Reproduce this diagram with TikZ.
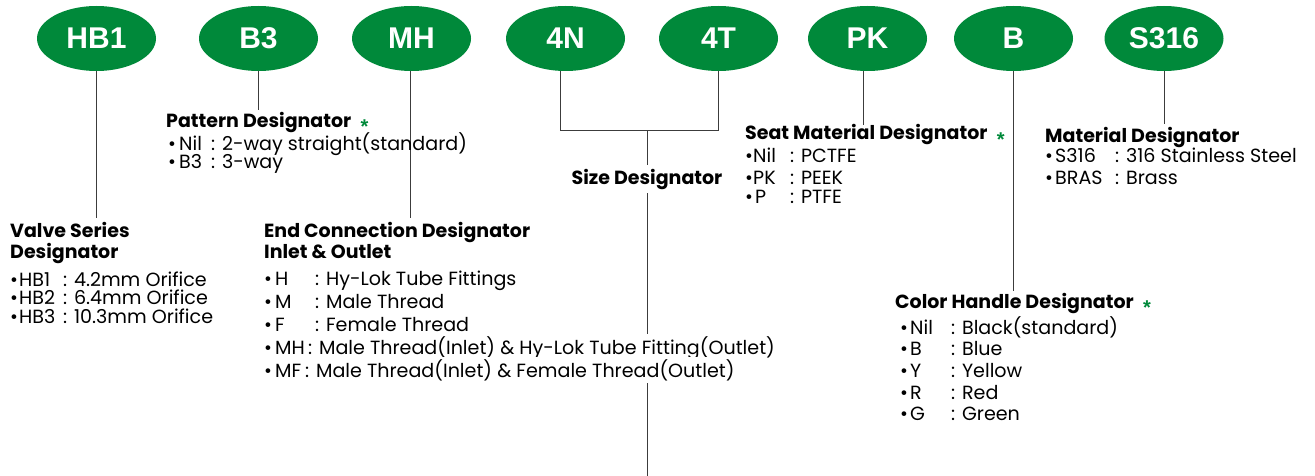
\documentclass[tikz,border=0pt]{standalone}
\usepackage{fontspec}
\setmainfont{Poppins}
\newfontfamily\lblfont{Liberation Sans}
\usetikzlibrary{shapes.geometric}
\definecolor{hygreen}{RGB}{0,137,58}
\definecolor{linegray}{RGB}{60,60,60}
\newcommand{\itemrow}[7]{\node[item] (#1) at (#2,#3) {\makebox[#4pt][l]{•}\makebox[#5pt][l]{#6}: #7};}
\begin{document}
\begin{tikzpicture}[x=1pt,y=-1pt,
  code/.style={ellipse, fill=hygreen, minimum width=119pt, minimum height=65pt, inner sep=0pt, text=white, font=\lblfont\bfseries\fontsize{30}{30}\selectfont},
  conn/.style={draw=linegray, line width=1pt},
  head/.style={anchor=base west, inner sep=0pt, font=\bfseries\fontsize{19}{21}\selectfont},
  item/.style={anchor=base west, inner sep=0pt, font=\fontsize{19.1}{21}\selectfont},
  star/.style={anchor=base west, inner sep=0pt, text=hygreen, font=\lblfont\bfseries\fontsize{20}{20}\selectfont}]
\useasboundingbox (0,0) rectangle (1315,476);
% code ellipses
\node[code] (hb1) at (96.5,38.5) {HB1};
\node[code] (b3) at (258.5,38.5) {B3};
\node[code] (mh) at (411.5,38.5) {MH};
\node[code] (n4) at (565.5,38.5) {4N};
\node[code] (t4) at (718.5,38.5) {4T};
\node[code] (pk) at (867.5,38.5) {PK};
\node[code] (b) at (1013.5,38.5) {B};
\node[code] (s316) at (1164,38.5) {S316};
% free ends
\coordinate (hb1e) at (96,218);
\coordinate (b3e) at (258.5,110);
\coordinate (mhe) at (410,218);
\coordinate (pke) at (863,125);
\coordinate (be) at (1013,291);
\coordinate (s316e) at (1164,124);
\coordinate (jl) at (560,131);
\coordinate (jr) at (718.5,131);
\coordinate (jm) at (647,131);
\coordinate (bottom) at (647,476);
% headings
\node[head] (vs1) at (10,237) {Valve Series};
\node[head] (vs2) at (10,258) {Designator};
\node[head] (pat) at (166,128) {Pattern Designator};
\node[star] (patstar) at ([xshift=9pt]pat.base east) {\raisebox{-6pt}{*}};
\node[head] (ec1) at (264,237) {End Connection Designator};
\node[head] (ec2) at (264,258) {Inlet \& Outlet};
\node[head, anchor=base, inner xsep=0pt, inner ysep=4pt] (size) at (647,184) {Size Designator};
\node[head] (seat) at (745,140) {Seat Material Designator};
\node[star] (seatstar) at ([xshift=9pt]seat.base east) {\raisebox{-6pt}{*}};
\node[head] (mat) at (1045,143) {Material Designator};
\node[head] (col) at (895,308) {Color Handle Designator};
\node[star] (colstar) at ([xshift=9pt]col.base east) {\raisebox{-6pt}{*}};
% connectors
\draw[conn] ([xshift=-0.5pt]hb1.south) -- (hb1e);
\draw[conn] (b3.south) -- (b3e);
\draw[conn] ([xshift=-1.5pt]mh.south) -- (mhe);
\draw[conn] ([xshift=-5.5pt]n4.south) -- (jl) -- (jr) -- (t4.south);
\draw[conn] (jm) -- (size.north);
\draw[conn] (size.south) -- (bottom);
\draw[conn] ([xshift=-4.5pt]pk.south) -- (pke);
\draw[conn] ([xshift=-0.5pt]b.south) -- (be);
\draw[conn] (s316.south) -- (s316e);
% items
\itemrow{hbr1}{10}{286}{9}{44}{HB1}{4.2mm Orifice}
\itemrow{hbr2}{10}{304.5}{9}{44}{HB2}{6.4mm Orifice}
\itemrow{hbr3}{10}{323}{9}{44}{HB3}{10.3mm Orifice}
\itemrow{patr1}{168}{150}{11}{32}{Nil}{2-way straight(standard)}
\itemrow{patr2}{168}{168}{11}{32}{B3}{3-way}
\itemrow{ecr1}{264}{285}{11}{40}{H}{Hy-Lok Tube Fittings}
\itemrow{ecr2}{264}{308}{11}{40}{M}{Male Thread}
\itemrow{ecr3}{264}{331}{11}{40}{F}{Female Thread}
\node[item, fill=white, inner ysep=2pt] (ecr4) at (264,354) {\makebox[11pt][l]{•}\makebox[33pt][l]{MH}: Male Thread(Inlet) \& Hy-Lok Tube Fitting(Outlet)};
\node[item, fill=white, inner ysep=2pt] (ecr5) at (264,377) {\makebox[11pt][l]{•}\makebox[30pt][l]{MF}: Male Thread(Inlet) \& Female Thread(Outlet)};
\itemrow{seatr1}{745}{163}{8}{37}{Nil}{PCTFE}
\itemrow{seatr2}{745}{184}{8}{37}{PK}{PEEK}
\itemrow{seatr3}{745}{204}{10}{35}{P}{PTFE}
\itemrow{matr1}{1045}{163}{10}{60}{S316}{316 Stainless Steel}
\itemrow{matr2}{1045}{184}{10}{60}{BRAS}{Brass}
\itemrow{colr1}{900}{334}{10}{41}{Nil}{Black(standard)}
\itemrow{colr2}{900}{355}{10}{41}{B}{Blue}
\itemrow{colr3}{900}{377}{10}{41}{Y}{Yellow}
\itemrow{colr4}{900}{399}{10}{41}{R}{Red}
\itemrow{colr5}{900}{420}{10}{41}{G}{Green}
\end{tikzpicture}
\end{document}
